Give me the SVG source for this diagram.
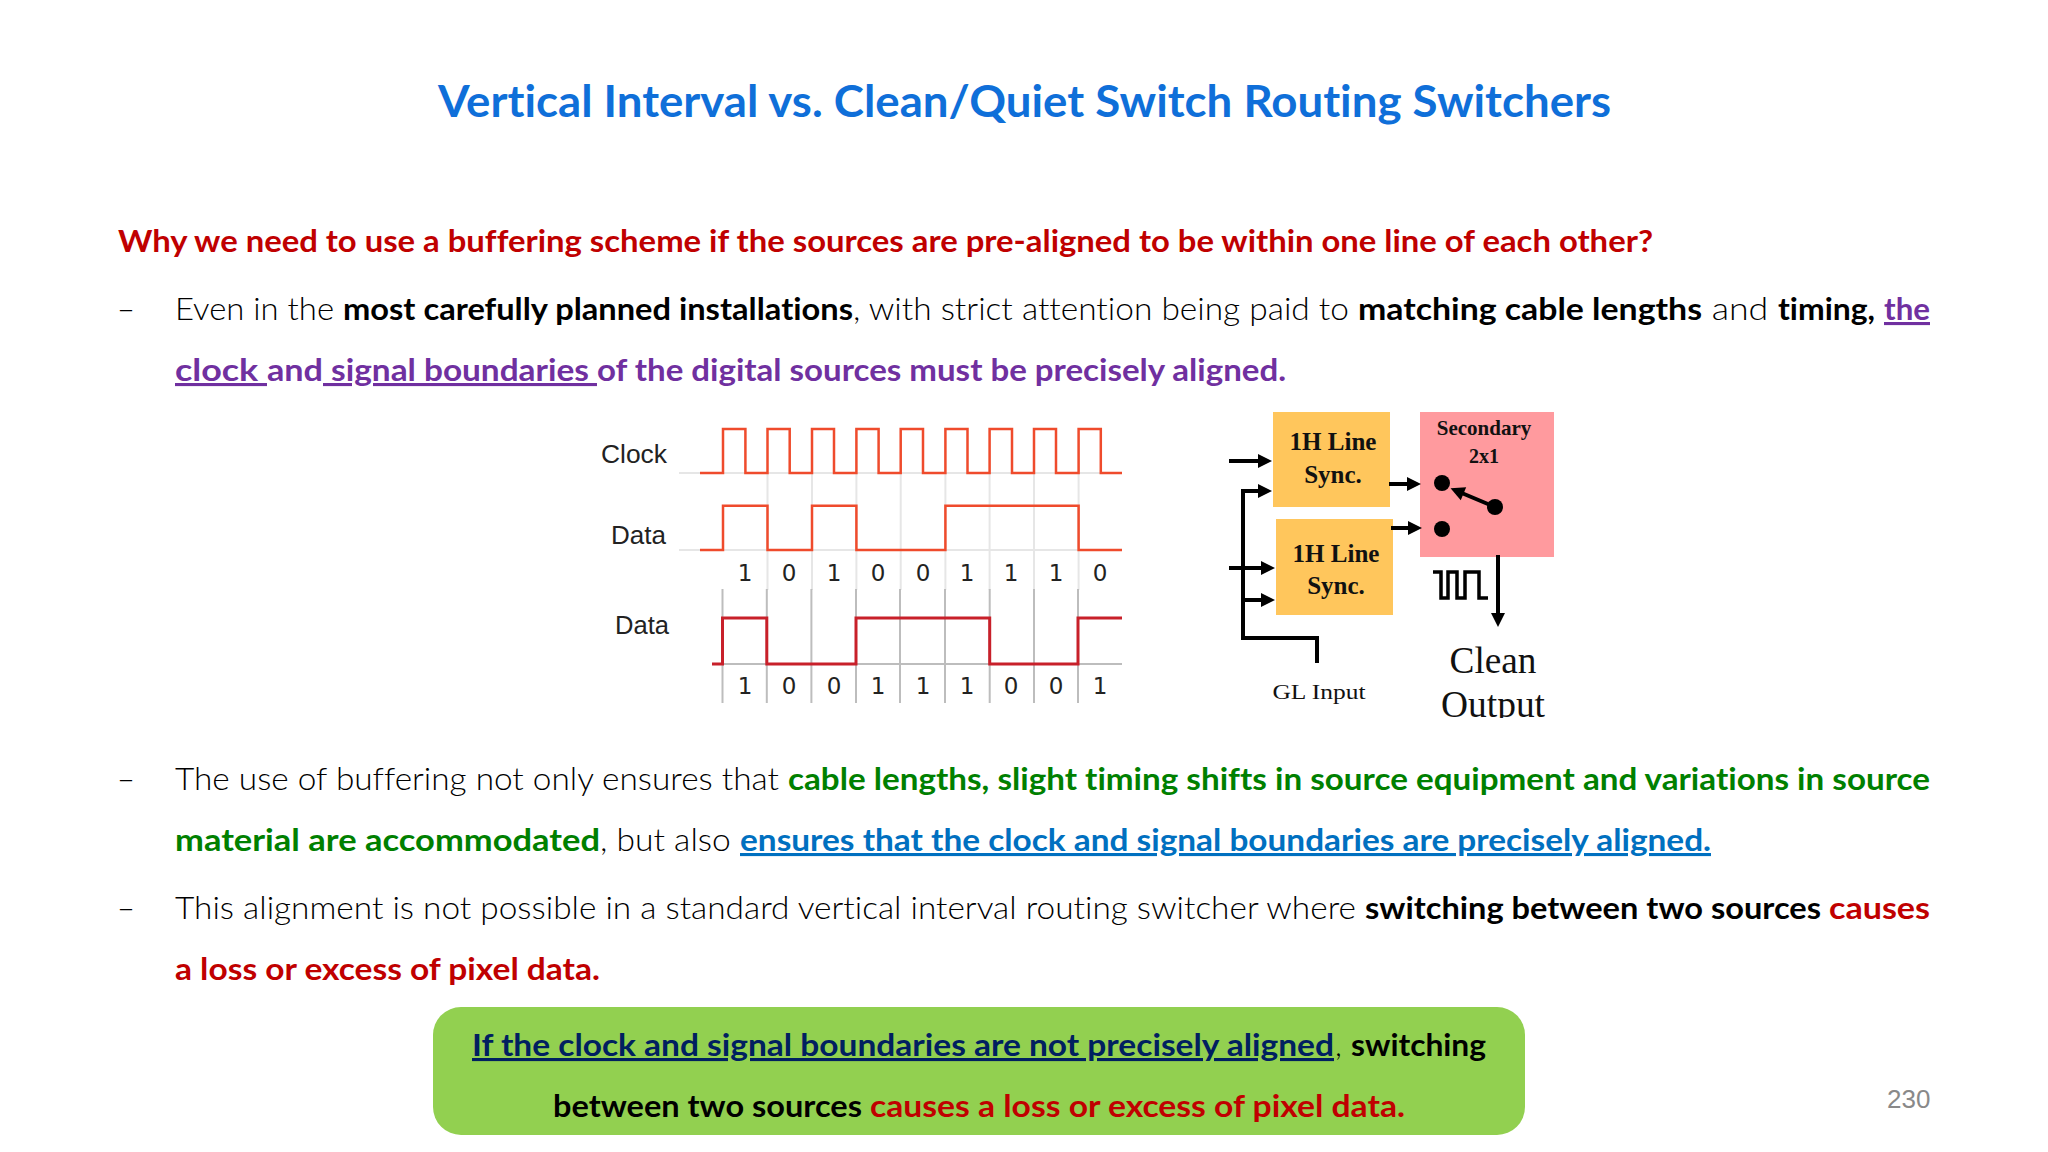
<svg xmlns="http://www.w3.org/2000/svg" width="2048" height="1152" viewBox="0 0 2048 1152">
<style>
text{font-family:"Lato","Open Sans","Liberation Sans",sans-serif;white-space:pre;font-variant-ligatures:none}
.b{font-size:31px;fill:#000}
.t{font-weight:300}
.s{font-weight:700}
.u{text-decoration:underline}
.r{fill:#c00000}.p{fill:#7030a0}.g{fill:#008000}.l{fill:#0070c0}.n{fill:#002060}
.d{font-family:"DejaVu Sans",sans-serif;font-size:23px;fill:#222;text-anchor:middle}
.lab{font-family:"Liberation Sans",sans-serif;font-size:26px;fill:#222}
.sf{font-family:"Liberation Serif",serif;fill:#111;text-anchor:middle}
.sfb{font-family:"Liberation Serif",serif;font-weight:700;fill:#111;text-anchor:middle}
.w{fill:none;stroke-linejoin:miter}
.k{fill:none;stroke:#000;stroke-width:4}
</style>
<defs>
<marker id="ah" markerUnits="userSpaceOnUse" markerWidth="16" markerHeight="16" viewBox="0 0 16 16" refX="8" refY="8" orient="auto"><path d="M1 1L15 8L1 15Z" fill="#000"/></marker>
<clipPath id="cp"><rect x="1400" y="640" width="200" height="78"/></clipPath>
</defs>
<rect width="2048" height="1152" fill="#fff"/>
<g id="title"><text x="438" y="117" font-size="43" font-weight="700" fill="#0f6fd9" textLength="1173" lengthAdjust="spacingAndGlyphs">Vertical Interval vs. Clean/Quiet Switch Routing Switchers</text></g>
<g id="body">
<text class="b s r" x="118" y="252" textLength="1535" lengthAdjust="spacingAndGlyphs">Why we need to use a buffering scheme if the sources are pre-aligned to be within one line of each other?</text>
<text class="b t" x="117" y="320">–</text>
<text class="b t" x="175" y="320" textLength="168" lengthAdjust="spacingAndGlyphs">Even in the </text>
<text class="b s" x="343" y="320" textLength="510" lengthAdjust="spacingAndGlyphs">most carefully planned installations</text>
<text class="b t" x="853" y="320" textLength="505" lengthAdjust="spacingAndGlyphs">, with strict attention being paid to </text>
<text class="b s" x="1358" y="320" textLength="344" lengthAdjust="spacingAndGlyphs">matching cable lengths</text>
<text class="b t" x="1702" y="320" textLength="76" lengthAdjust="spacingAndGlyphs"> and </text>
<text class="b s" x="1778" y="320" textLength="97" lengthAdjust="spacingAndGlyphs">timing,</text>
<text class="b s p u" x="1884" y="320" textLength="46" lengthAdjust="spacingAndGlyphs">the</text>
<text class="b s p u" x="175" y="381" textLength="92" lengthAdjust="spacingAndGlyphs">clock </text>
<text class="b s p" x="267" y="381" textLength="56" lengthAdjust="spacingAndGlyphs">and</text>
<text class="b s p u" x="323" y="381" textLength="274" lengthAdjust="spacingAndGlyphs"> signal boundaries </text>
<text class="b s p" x="597" y="381" textLength="689" lengthAdjust="spacingAndGlyphs">of the digital sources must be precisely aligned.</text>
<text class="b t" x="117" y="790">–</text>
<text class="b t" x="175" y="790" textLength="613" lengthAdjust="spacingAndGlyphs">The use of buffering not only ensures that </text>
<text class="b s g" x="788" y="790" textLength="1142" lengthAdjust="spacingAndGlyphs">cable lengths, slight timing shifts in source equipment and variations in source</text>
<text class="b s g" x="175" y="851" textLength="425" lengthAdjust="spacingAndGlyphs">material are accommodated</text>
<text class="b t" x="600" y="851" textLength="140" lengthAdjust="spacingAndGlyphs">, but also </text>
<text class="b s l u" x="740" y="851" textLength="971" lengthAdjust="spacingAndGlyphs">ensures that the clock and signal boundaries are precisely aligned.</text>
<text class="b t" x="117" y="919">–</text>
<text class="b t" x="175" y="919" textLength="1190" lengthAdjust="spacingAndGlyphs">This alignment is not possible in a standard vertical interval routing switcher where </text>
<text class="b s" x="1365" y="919" textLength="464" lengthAdjust="spacingAndGlyphs">switching between two sources </text>
<text class="b s r" x="1829" y="919" textLength="101" lengthAdjust="spacingAndGlyphs">causes</text>
<text class="b s r" x="175" y="980" textLength="425" lengthAdjust="spacingAndGlyphs">a loss or excess of pixel data.</text>
</g>
<g id="timing">
<g fill="none" stroke="#e6e6e6" stroke-width="2">
<path d="M679 473H1122M679 550H1122M767.5 473V590M812 473V590M856.4 473V590M900.7 473V590M945.4 473V590M989.6 473V590M1034 473V590M1078.6 473V590"/>
</g>
<g fill="none" stroke="#bdbdbd" stroke-width="2">
<path d="M712 664H1122M722.5 589V703M766.8 589V703M811.4 589V703M856 589V703M900 589V703M945 589V703M989.7 589V703M1034 589V703M1078 589V703"/>
</g>
<path class="w" stroke="#ef4b2c" stroke-width="2.5" d="M700 473H723V429H745.4V473H767.5V429H789.7V473H812V429H834V473H856.4V429H878.6V473H900.7V429H923V473H945.4V429H967.5V473H989.6V429H1012V473H1034V429H1056V473H1078.6V429H1100.8V473H1122"/>
<path class="w" stroke="#ef4b2c" stroke-width="2.5" d="M700 550H723V505.7H767.5V550H812V505.7H856.4V550H945.4V505.7H1078.6V550H1122"/>
<path class="w" stroke="#c8202a" stroke-width="3" d="M712 664H722.5V618H766.8V664H856V618H989.7V664H1078V618H1122"/>
<text class="lab" x="601" y="463" textLength="66" lengthAdjust="spacingAndGlyphs">Clock</text>
<text class="lab" x="611" y="544" textLength="55" lengthAdjust="spacingAndGlyphs">Data</text>
<text class="lab" x="615" y="634" textLength="54" lengthAdjust="spacingAndGlyphs">Data</text>
<g>
<text class="d" x="745" y="581">1</text><text class="d" x="789" y="581">0</text><text class="d" x="834" y="581">1</text><text class="d" x="878" y="581">0</text><text class="d" x="923" y="581">0</text><text class="d" x="967" y="581">1</text><text class="d" x="1011" y="581">1</text><text class="d" x="1056" y="581">1</text><text class="d" x="1100" y="581">0</text>
<text class="d" x="745" y="694">1</text><text class="d" x="789" y="694">0</text><text class="d" x="834" y="694">0</text><text class="d" x="878" y="694">1</text><text class="d" x="923" y="694">1</text><text class="d" x="967" y="694">1</text><text class="d" x="1011" y="694">0</text><text class="d" x="1056" y="694">0</text><text class="d" x="1100" y="694">1</text>
</g>
</g>
<g id="sync1"><rect x="1273" y="412" width="117" height="95" fill="#ffc65c"/><text class="sfb" x="1333" y="450" font-size="25">1H Line</text><text class="sfb" x="1333" y="483" font-size="25">Sync.</text></g>
<g id="sync2"><rect x="1276" y="519" width="117" height="96" fill="#ffc65c"/><text class="sfb" x="1336" y="562" font-size="25">1H Line</text><text class="sfb" x="1336" y="594" font-size="25">Sync.</text></g>
<g id="secondary"><rect x="1420" y="412" width="134" height="145" fill="#ff9a9e"/><text class="sfb" x="1484" y="435" font-size="21">Secondary</text><text class="sfb" x="1484" y="463" font-size="20">2x1</text><circle cx="1442" cy="483" r="8"/><circle cx="1442" cy="529" r="8"/><circle cx="1495" cy="507" r="8"/></g>
<g id="connectors">
<path class="k" d="M1229 461H1265" marker-end="url(#ah)"/>
<path class="k" d="M1317 663V638H1243V491H1265" marker-end="url(#ah)"/>
<path class="k" d="M1229 568H1268" marker-end="url(#ah)"/>
<path class="k" d="M1243 600H1268" marker-end="url(#ah)"/>
<path class="k" d="M1389 484H1414" marker-end="url(#ah)"/>
<path class="k" d="M1391 528H1415" marker-end="url(#ah)"/>
<path class="k" d="M1495 507L1457 491" marker-end="url(#ah)"/>
<path class="k" d="M1498 555V620" marker-end="url(#ah)"/>
<path fill="none" stroke="#000" stroke-width="3.5" d="M1433 572H1441V598H1448V572H1457V598H1465V572H1479V598H1488"/>
</g>
<g id="labels">
<text class="sf" x="1319" y="699" font-size="22" textLength="93" lengthAdjust="spacingAndGlyphs">GL Input</text>
<text class="sf" x="1493" y="673" font-size="37" textLength="87" lengthAdjust="spacingAndGlyphs">Clean</text>
<text class="sf" x="1493" y="717" font-size="37" textLength="104" lengthAdjust="spacingAndGlyphs" clip-path="url(#cp)">Output</text>
</g>
<g id="callout">
<rect x="433" y="1007" width="1092" height="128" rx="28" fill="#92d050"/>
<text class="b s n u" x="472" y="1056" textLength="862" lengthAdjust="spacingAndGlyphs">If the clock and signal boundaries are not precisely aligned</text>
<text class="b t" x="1335" y="1056">,</text>
<text class="b s" x="1351" y="1056" textLength="135" lengthAdjust="spacingAndGlyphs">switching</text>
<text class="b s" x="553" y="1117" textLength="309" lengthAdjust="spacingAndGlyphs">between two sources</text>
<text class="b s r" x="870" y="1117" textLength="535" lengthAdjust="spacingAndGlyphs">causes a loss or excess of pixel data.</text>
</g>
<text id="page" x="1887" y="1108" font-size="26" fill="#898989" style="font-family:'Liberation Sans',sans-serif">230</text>
</svg>
